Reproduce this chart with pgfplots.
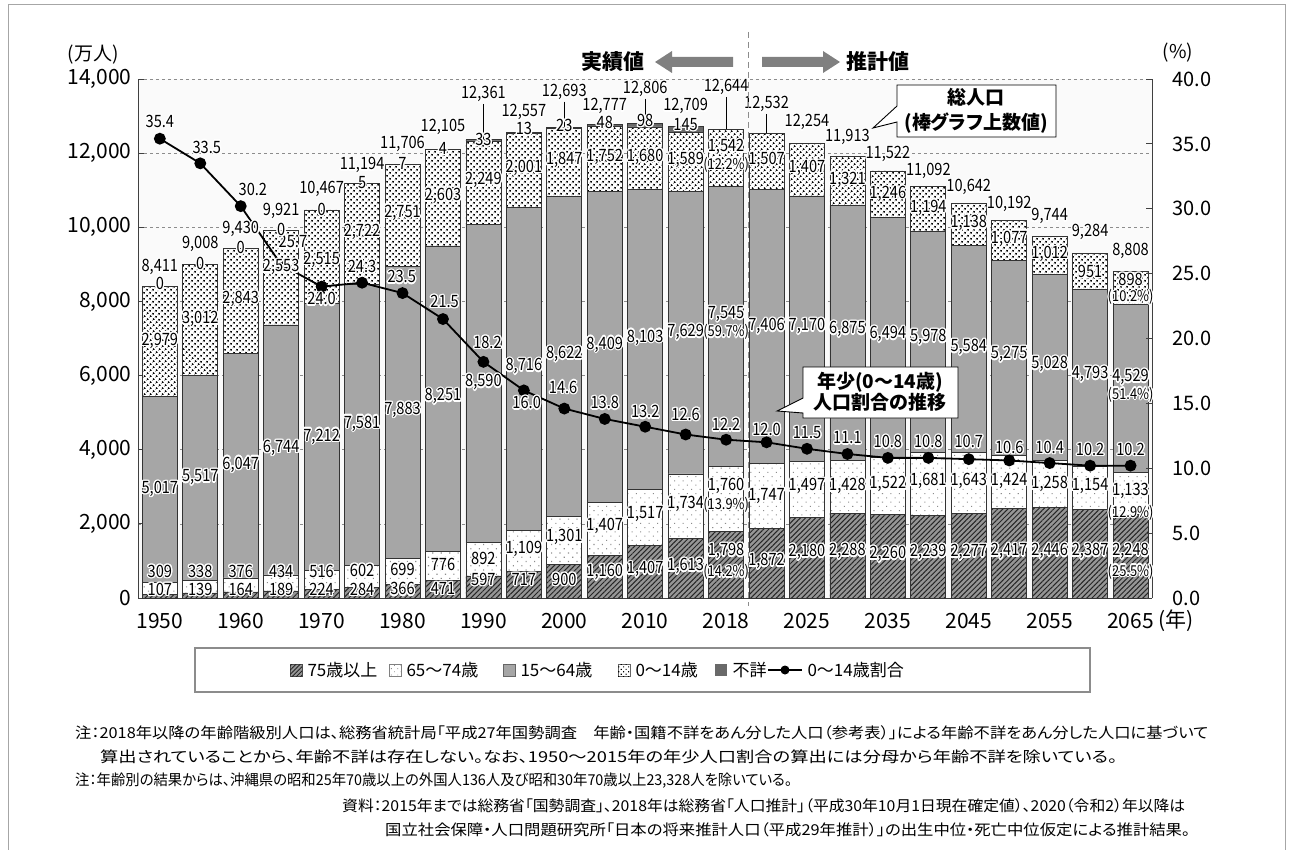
\documentclass[border=0pt]{standalone}
\usepackage{pgfplots}
\pgfplotsset{compat=1.18}
\usepackage{pgfplotstable}
\usepackage{fontspec}
\usepackage{graphicx}
\usepackage{contour}
\usetikzlibrary{patterns,patterns.meta}
\setmainfont[RawFeature=+palt]{Noto Sans CJK JP}
\newfontfamily\lab[FakeStretch=0.86]{Noto Sans CJK JP}
\contourlength{1.3pt}
\contournumber{16}

\definecolor{midgray}{RGB}{166,166,166}
\definecolor{hatchbg}{RGB}{150,150,150}
\definecolor{unkgray}{RGB}{105,105,105}
\definecolor{bgfill}{RGB}{250,250,250}
\definecolor{arrowgray}{RGB}{128,128,128}

% 年: 0=1950 ... 13=2015, 14=2018, 15=2020 ... 24=2065
% a=75歳以上 b=65~74歳 c=15~64歳 d=0~14歳 e=不詳 r=0~14歳割合(%)
\pgfplotstableread{
x a b c d e r
0 107 309 5017 2979 0 35.4
1 139 338 5517 3012 0 33.5
2 164 376 6047 2843 0 30.2
3 189 434 6744 2553 0 25.7
4 224 516 7212 2515 0 24.0
5 284 602 7581 2722 5 24.3
6 366 699 7883 2751 7 23.5
7 471 776 8251 2603 4 21.5
8 597 892 8590 2249 33 18.2
9 717 1109 8716 2001 13 16.0
10 900 1301 8622 1847 23 14.6
11 1160 1407 8409 1752 48 13.8
12 1407 1517 8103 1680 98 13.2
13 1613 1734 7629 1589 145 12.6
14 1798 1760 7545 1542 0 12.2
15 1872 1747 7406 1507 0 12.0
16 2180 1497 7170 1407 0 11.5
17 2288 1428 6875 1321 0 11.1
18 2260 1522 6494 1246 0 10.8
19 2239 1681 5978 1194 0 10.8
20 2277 1643 5584 1138 0 10.7
21 2417 1424 5275 1077 0 10.6
22 2446 1258 5028 1012 0 10.4
23 2387 1154 4793 951 0 10.2
24 2248 1133 4529 898 0 10.2
}\pop

% 棒の数値ラベル (x, 位置, 文字)
\pgfplotstableread{
x y t
0 8902 8,411
1 9522 9,008
2 9927 9,430
3 10413 9,921
4 11006 10,467
5 11654 11,194
6 12220 11,706
7 12679 12,105
8 13569 12,361
9 13083 12,557
10 13623 12,693
11 13245 12,777
12 13704 12,806
13 13245 12,709
14 13758 12,644
15 13299 12,532
16 12814 12,254
17 12409 11,913
18 11950 11,522
19 11492 11,092
20 11060 10,642
21 10602 10,192
22 10278 9,744
23 9846 9,284
24 9334 8,808
0 8460 0
1 9008 0
2 9430 0
3 9921 0
4 10467 0
5 11194 5
6 11706 7
7 12105 4
8 12361 33
9 12640 13
10 12740 23
11 12820 48
12 12860 98
13 12760 145
0 6922 2,979
1 7500 3,012
2 8050 2,843
3 8900 2,553
4 9100 2,515
5 9860 2,722
6 10380 2,751
7 10820 2,603
8 11250 2,249
9 11580 2,001
10 11790 1,847
11 11880 1,752
12 11880 1,680
13 11800 1,589
14 12139 1,542
15 11800 1,507
16 11580 1,407
17 11270 1,321
18 10880 1,246
19 10510 1,194
20 10090 1,138
21 9680 1,077
22 9260 1,012
23 8790 951
24 8580 898
0 2924 5,017
1 3235 5,517
2 3580 6,047
3 4030 6,744
4 4340 7,212
5 4690 7,581
6 5060 7,883
7 5420 8,251
8 5800 8,590
9 6230 8,716
10 6560 8,622
11 6820 8,409
12 7010 8,103
13 7150 7,629
14 7634 7,545
15 7310 7,406
16 7310 7,170
17 7230 6,875
18 7095 6,494
19 7014 5,978
20 6744 5,584
21 6555 5,275
22 6285 5,028
23 6016 4,793
24 5935 4,529
0 700 309
1 700 338
2 700 376
3 700 434
4 700 516
5 730 602
6 757 699
7 890 776
8 1050 892
9 1300 1,109
10 1618 1,301
11 1915 1,407
12 2239 1,517
13 2509 1,734
14 2995 1,760
15 2725 1,747
16 2995 1,497
17 2995 1,428
18 3048 1,522
19 3129 1,681
20 3129 1,643
21 3129 1,424
22 3048 1,258
23 2995 1,154
24 2860 1,133
0 216 107
1 216 139
2 216 164
3 216 189
4 216 224
5 216 284
6 230 366
7 240 471
8 486 597
9 486 717
10 486 900
11 675 1,160
12 755 1,407
13 836 1,613
14 1241 1,798
15 971 1,872
16 1214 2,180
17 1241 2,288
18 1160 2,260
19 1214 2,239
20 1214 2,277
21 1241 2,417
22 1241 2,446
23 1241 2,387
24 1241 2,248
}\labs

\pgfplotstableread{
x y t
14 11680 (12.2\%)
24 8093 (10.2\%)
14 7149 (59.7\%)
24 5476 (51.4\%)
14 2509 (13.9\%)
24 2293 (12.9\%)
14 675 (14.2\%)
24 701 (25.5\%)
}\pcts

% 割合ラベル (右軸)
\pgfplotstableread{
x y t
0 36.7 35.4
1.16 34.7 33.5
2.30 31.4 30.2
3.29 27.4 25.7
4 23.0 24.0
5 25.5 24.3
5.98 24.7 23.5
7.04 22.8 21.5
8.1 19.65 18.2
9.07 15.0 16.0
9.97 16.2 14.6
11 15.0 13.8
12 14.3 13.2
13 14.1 12.6
14 13.3 12.2
15 12.95 12.0
16 12.7 11.5
17 12.3 11.1
18 12.0 10.8
19 12.0 10.8
20 12.0 10.7
21 11.55 10.6
22 11.55 10.4
23 11.4 10.2
24 11.4 10.2
}\rlabs

\pgfplotsset{
  plotframe/.style={at={(138pt,-598pt)}, anchor=south west, scale only axis,
    width=1014pt, height=519pt, xmin=-0.54, xmax=24.53},
  labelplot/.style={draw=none, nodes near coords={\contour{white}{\pgfplotspointmeta}},
    point meta=explicit symbolic,
    every node near coord/.append style={anchor=center, inner sep=0pt, font=\lab\fontsize{17}{17}\selectfont}},
}

\begin{document}
\begin{tikzpicture}
\begin{scope}[x=1pt,y=1pt]
\useasboundingbox (0,0) rectangle (1293,-850);
\draw[black!35, line width=1pt] (8,-850) -- (8,-5) -- (1285,-5) -- (1285,-850);
\end{scope}

\begin{axis}[plotframe, ymin=0, ymax=14000,
  ybar stacked, bar width=35pt,
  axis x line*=bottom, axis y line*=left,
  axis line style={black!75, line width=0.9pt},
  axis background/.style={fill=bgfill},
  xtick={0,2,...,24},
  xticklabels={1950,1960,1970,1980,1990,2000,2010,2018,2025,2035,2045,2055,2065},
  x tick style={draw=none},
  xticklabel style={yshift=-12pt},
  ytick={0,2000,...,14000},
  scaled y ticks=false,
  yticklabel style={/pgf/number format/fixed, /pgf/number format/1000 sep={,}, xshift=-3pt},
  tick align=inside, major tick length=6pt,
  y tick style={black!75, line width=0.8pt},
  ymajorgrids, grid style={dashed, black!45, line width=0.7pt},
  tick label style={font=\fontsize{21}{21}\selectfont},
  /pgf/number format/assume math mode=true,
]
\addplot[fill=hatchbg, draw=black!80, line width=0.7pt,
  postaction={pattern={Lines[angle=45, distance=3.6pt, line width=1pt]}, pattern color=black!85}]
  table[x=x, y=a]{\pop};
\addplot[fill=white, draw=black!80, line width=0.7pt,
  postaction={pattern={Dots[distance=6pt, radius=0.75pt, angle=45]}, pattern color=black!45}]
  table[x=x, y=b]{\pop};
\addplot[fill=midgray, draw=black!80, line width=0.7pt] table[x=x, y=c]{\pop};
\addplot[fill=white, draw=black!80, line width=0.7pt,
  postaction={pattern={Dots[distance=4pt, radius=1.2pt, angle=45]}, pattern color=black}]
  table[x=x, y=d]{\pop};
\addplot[fill=unkgray, draw=black!80, line width=0.7pt] table[x=x, y=e]{\pop};
\end{axis}

\begin{axis}[plotframe, ymin=0, ymax=40, clip=false,
  axis x line=none, axis y line*=right,
  axis line style={black!75, line width=0.9pt},
  ytick={0,5,...,40},
  tick align=inside, major tick length=6pt,
  y tick style={black!75, line width=0.8pt},
  yticklabel style={font=\fontsize{20}{20}\selectfont, xshift=17pt,
    /pgf/number format/fixed, /pgf/number format/fixed zerofill,
    /pgf/number format/precision=1},
  /pgf/number format/assume math mode=true,
]
\addplot[black, line width=1.8pt, mark=*, mark size=5pt] table[x=x, y=r]{\pop};
\addplot[labelplot] table[x=x, y=y, meta=t]{\rlabs};
\end{axis}

\begin{axis}[plotframe, ymin=0, ymax=14000, hide axis, clip=false]
% 総人口ラベルの引出し線
\draw[black, line width=0.8pt] (axis cs:8,13330) -- (axis cs:8,12361);
\draw[black, line width=0.8pt] (axis cs:10,13390) -- (axis cs:10,12693);
\draw[black, line width=0.8pt] (axis cs:12,13470) -- (axis cs:12,12806);
\draw[black, line width=0.8pt] (axis cs:14,13520) -- (axis cs:14,12644);
\draw[black, line width=0.8pt] (axis cs:15,13060) -- (axis cs:15,12532);
\addplot[labelplot] table[x=x, y=y, meta=t]{\labs};
\addplot[labelplot, every node near coord/.append style={font=\lab\fontsize{15}{15}\selectfont}]
  table[x=x, y=y, meta=t]{\pcts};
\end{axis}

\begin{scope}[x=1pt,y=1pt]
% 実績値 / 推計値
\draw[black!45, line width=1pt, dash pattern=on 6pt off 4pt] (748,-32) -- (748,-606);
\fill[arrowgray] (733,-57) -- (672,-57) -- (672,-51) -- (655,-62) -- (672,-73) -- (672,-67) -- (733,-67) -- cycle;
\fill[arrowgray] (762,-57) -- (823,-57) -- (823,-51) -- (840,-62) -- (823,-73) -- (823,-67) -- (762,-67) -- cycle;
\node[font=\bfseries\fontsize{21}{21}\selectfont] at (613,-62) {実績値};
\node[font=\bfseries\fontsize{21}{21}\selectfont] at (878,-62) {推計値};

\node[font=\fontsize{19}{19}\selectfont] at (93,-55) {(万人)};
\node[font=\fontsize{19}{19}\selectfont] at (1178,-53) {(\%)};
\node[font=\fontsize{21}{21}\selectfont] at (1176,-621) {(年)};

% 吹き出し
\draw[fill=white, line width=0.9pt] (897,-85) -- (1056,-85) -- (1056,-137) -- (897,-137)
  -- (897,-122) -- (873,-128) -- (897,-106) -- cycle;
\node[font=\bfseries\fontsize{19}{25}\selectfont, align=center] at (976,-111) {総人口\\(棒グラフ上数値)};
\draw[fill=white, line width=0.9pt] (803,-367) -- (958,-367) -- (958,-418) -- (803,-418)
  -- (803,-413) -- (777,-411) -- (803,-398) -- cycle;
\node[font=\bfseries\fontsize{19}{20}\selectfont, align=center] at (880,-392) {年少(0～14歳)\\人口割合の推移};

% 凡例
\draw[black!45, line width=1.2pt] (195,-648) rectangle (1090,-692);
\begin{scope}[font=\fontsize{17}{17}\selectfont]
\path[fill=hatchbg, draw=black!70, postaction={pattern={Lines[angle=45, distance=3pt, line width=0.8pt]}, pattern color=black!85}] (290,-664) rectangle (302,-676);
\node[anchor=west] at (304,-670) {75歳以上};
\path[fill=white, draw=black!50, postaction={pattern={Dots[distance=4.5pt, radius=0.6pt, angle=45]}, pattern color=black!45}] (389,-664) rectangle (401,-676);
\node[anchor=west] at (403,-670) {65～74歳};
\path[fill=midgray, draw=black!60] (503,-664) rectangle (515,-676);
\node[anchor=west] at (517,-670) {15～64歳};
\path[fill=white, draw=black!60, postaction={pattern={Dots[distance=3.5pt, radius=0.8pt, angle=45]}, pattern color=black}] (618,-664) rectangle (630,-676);
\node[anchor=west] at (632,-670) {0～14歳};
\path[fill=unkgray] (715,-664) rectangle (727,-676);
\node[anchor=west] at (729,-670) {不詳};
\draw[black, line width=1.8pt] (768,-670) -- (802,-670);
\fill[black] (785,-670) circle (4.5);
\node[anchor=west] at (804,-670) {0～14歳割合};
\end{scope}

% 注・資料
\begin{scope}[font=\fontsize{15}{15}\selectfont]
\node[anchor=west, inner sep=0pt] at (75,-733) {\resizebox{1133pt}{\height}{注：2018年以降の年齢階級別人口は、総務省統計局「平成27年国勢調査　年齢・国籍不詳をあん分した人口（参考表）」による年齢不詳をあん分した人口に基づいて}};
\node[anchor=west, inner sep=0pt] at (100,-757) {\resizebox{1017pt}{\height}{算出されていることから、年齢不詳は存在しない。なお、1950～2015年の年少人口割合の算出には分母から年齢不詳を除いている。}};
\node[anchor=west, inner sep=0pt] at (75,-781) {\resizebox{717pt}{\height}{注：年齢別の結果からは、沖縄県の昭和25年70歳以上の外国人136人及び昭和30年70歳以上23,328人を除いている。}};
\node[anchor=west, inner sep=0pt] at (342,-806) {\resizebox{843pt}{\height}{資料：2015年までは総務省「国勢調査」、2018年は総務省「人口推計」（平成30年10月1日現在確定値）、2020（令和2）年以降は}};
\node[anchor=west, inner sep=0pt] at (385,-830) {\resizebox{805pt}{\height}{国立社会保障・人口問題研究所「日本の将来推計人口（平成29年推計）」の出生中位・死亡中位仮定による推計結果。}};
\end{scope}
\end{scope}
\end{tikzpicture}
\end{document}
